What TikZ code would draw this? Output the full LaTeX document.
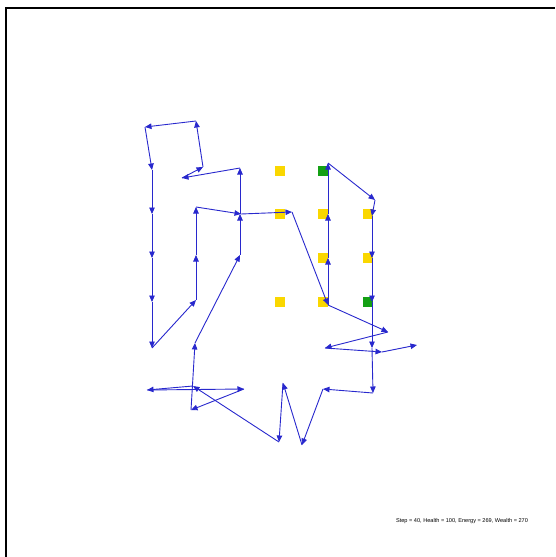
\documentclass[tikz,border=0pt]{standalone}
\usepackage{fontspec}
\setmainfont{Liberation Sans}
\usepackage{xcolor}
\usetikzlibrary{arrows.meta}
\definecolor{walkblue}{RGB}{40,40,205}
\definecolor{cellyellow}{RGB}{250,215,0}
\definecolor{cellgreen}{RGB}{20,160,20}

\begin{document}
\begin{tikzpicture}[x=1pt,y=-1pt,
    cell/.style={minimum size=10.5pt,inner sep=0pt,draw=none},
    stepline/.style={walkblue,line width=0.9pt,-{Triangle[length=6.5pt,width=5.5pt]}}]
    \useasboundingbox (0,0) rectangle (555,557);
    \draw[line width=2pt] (5.5,557) -- (5.5,7.5) -- (555,7.5);
    % cells
    \foreach \n/\x/\y in {y1/280/171,y2/280/214,y3/323/214,y4/368/214,
                          y5/323/258,y6/368/258,y7/280/302,y8/323/302} {
      \node[cell,fill=cellyellow] (\n) at (\x,\y) {};
    }
    \foreach \n/\x/\y in {g1/323/171,g2/368/302} {
      \node[cell,fill=cellgreen] (\n) at (\x,\y) {};
    }
    % walk
    \foreach \i/\x/\y in {0/328/305,1/328/258,2/328/214,3/328/163,4/375/200,
                          5/372/216,6/372/258,7/372/302,8/372/348,9/373/393,
                          10/323/389,11/302/445,12/283/383,13/279/442,14/193/386,
                          15/147/390,16/244/389,17/191/410,18/195/343,19/240/255,
                          20/240/214,21/240/168,22/182/178,23/203/167,24/196/121,
                          25/145/127,26/152/170,27/152/214,28/152/258,29/152/302,
                          30/152/348,31/196/300,32/196/255,33/196/207,34/241/214,
                          35/292/212,36/328/305,37/388/332,38/325/348,39/382/352,
                          40/417/345} {
      \coordinate (p\i) at (\x,\y);
    }
    \foreach \i [count=\j from 1] in {0,...,39} {
      \draw[stepline] (p\i) -- (p\j);
    }
    \node[font=\fontsize{5.6}{6}\selectfont] (status) at (462,521)
      {Step = 40, Health = 100, Energy = 269, Wealth = 270};
\end{tikzpicture}
\end{document}
